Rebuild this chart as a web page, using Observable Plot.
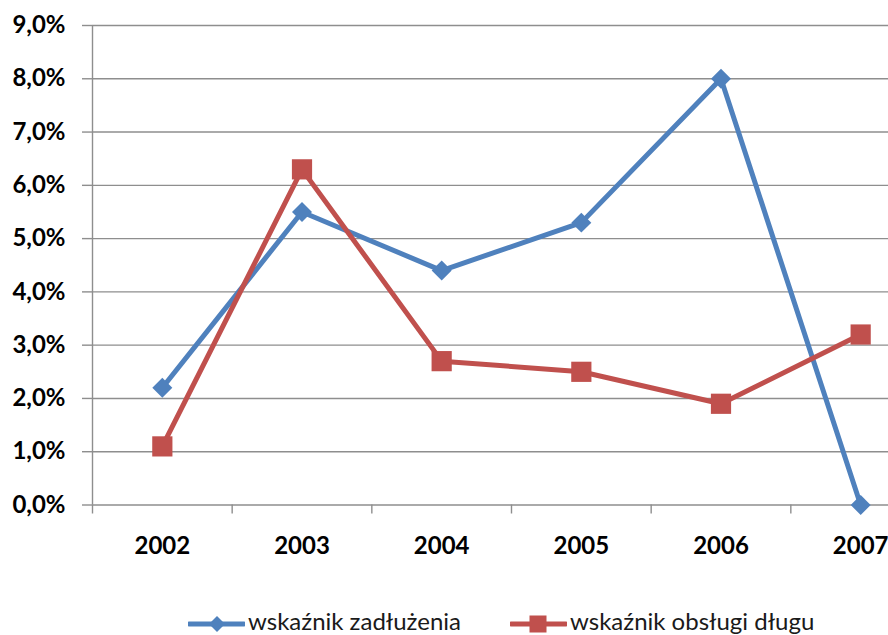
<!DOCTYPE html>
<html>
<head>
<meta charset="utf-8">
<script src="https://cdn.jsdelivr.net/npm/d3@7"></script>
<script src="https://cdn.jsdelivr.net/npm/@observablehq/plot@0.6"></script>
<style>
  body { margin: 0; background: #fff; }
  #wrap { position: relative; width: 888px; height: 635px; overflow: hidden; font-family: Lato, sans-serif; }
  #legend { position: absolute; left: 188px; top: 607px; display: flex; align-items: center; font-size: 24px; line-height: 28px; color: #1a1a1a; white-space: nowrap; }
  .item { display: flex; align-items: center; height: 28px; margin-right: 49px; }
  .item svg { margin-right: 3px; position: relative; top: 3px; }
</style>
</head>
<body>
<div id="wrap"><div id="chart"></div><div id="legend"></div></div>
<script>
const years = [2002, 2003, 2004, 2005, 2006, 2007];
const zadluzenie = [2.2, 5.5, 4.4, 5.3, 8.0, 0.0];
const obsluga = [1.1, 6.3, 2.7, 2.5, 1.9, 3.2];
const seriesNames = ["wskaźnik zadłużenia", "wskaźnik obsługi długu"];
const seriesColors = ["#4F81BD", "#C0504D"];
const yTicks = [0, 1, 2, 3, 4, 5, 6, 7, 8, 9];

const dataA = years.map((y, i) => ({year: y, value: zadluzenie[i], series: seriesNames[0]}));
const dataB = years.map((y, i) => ({year: y, value: obsluga[i], series: seriesNames[1]}));
const bounds = years.map(y => y - 0.5).concat([years[years.length - 1] + 0.5]);
const grid = "#8e8e8e";
const fmt = d => d.toFixed(1).replace(".", ",") + "%";

const chart = Plot.plot({
  width: 888,
  height: 580,
  marginTop: 25,
  marginBottom: 75.5,
  marginLeft: 92,
  marginRight: 0,
  style: {fontFamily: "Lato, sans-serif", fontSize: "24px", fontWeight: "bold", color: "#000", overflow: "hidden"},
  x: {type: "linear", domain: [bounds[0], bounds[bounds.length - 1]], range: [92, 930]},
  y: {domain: [0, 9]},
  color: {domain: seriesNames, range: seriesColors},
  marks: [
    Plot.gridY(yTicks, {stroke: grid, strokeOpacity: 1, strokeWidth: 1.4}),
    Plot.axisY(yTicks, {tickSize: 10, tickPadding: 17, tickFormat: fmt, stroke: grid, strokeOpacity: 1, strokeWidth: 1.4, fill: "#000", label: null}),
    Plot.ruleX([bounds[0]], {stroke: grid, strokeWidth: 1.4}),
    Plot.axisX(bounds, {tickSize: 9, tickFormat: () => "", stroke: grid, strokeOpacity: 1, strokeWidth: 1.4, label: null}),
    Plot.axisX(years, {tickSize: 0, tickPadding: 32, tickFormat: d => String(d), fill: "#000", label: null}),
    Plot.line(dataA, {x: "year", y: "value", stroke: "series", strokeWidth: 5}),
    Plot.line(dataB, {x: "year", y: "value", stroke: "series", strokeWidth: 5}),
    Plot.dot(dataA, {x: "year", y: "value", fill: "series", symbol: "diamond2", r: 9}),
    Plot.dot(dataB, {x: "year", y: "value", fill: "series", symbol: "square", r: 11.4})
  ]
});
document.getElementById("chart").appendChild(chart);

const legend = document.getElementById("legend");
const icons = [
  c => `<svg width="57" height="22"><line x1="1" y1="11" x2="56" y2="11" stroke="${c}" stroke-width="5" stroke-linecap="round"/><path d="M29 3 L37 11 L29 19 L21 11 Z" fill="${c}"/></svg>`,
  c => `<svg width="57" height="22"><line x1="1" y1="11" x2="56" y2="11" stroke="${c}" stroke-width="5" stroke-linecap="round"/><rect x="19.5" y="2.5" width="17" height="17" fill="${c}"/></svg>`
];
seriesNames.forEach((name, i) => {
  const d = document.createElement("div");
  d.className = "item";
  d.innerHTML = icons[i](seriesColors[i]) + `<span>${name}</span>`;
  legend.appendChild(d);
});
</script>
</body>
</html>
